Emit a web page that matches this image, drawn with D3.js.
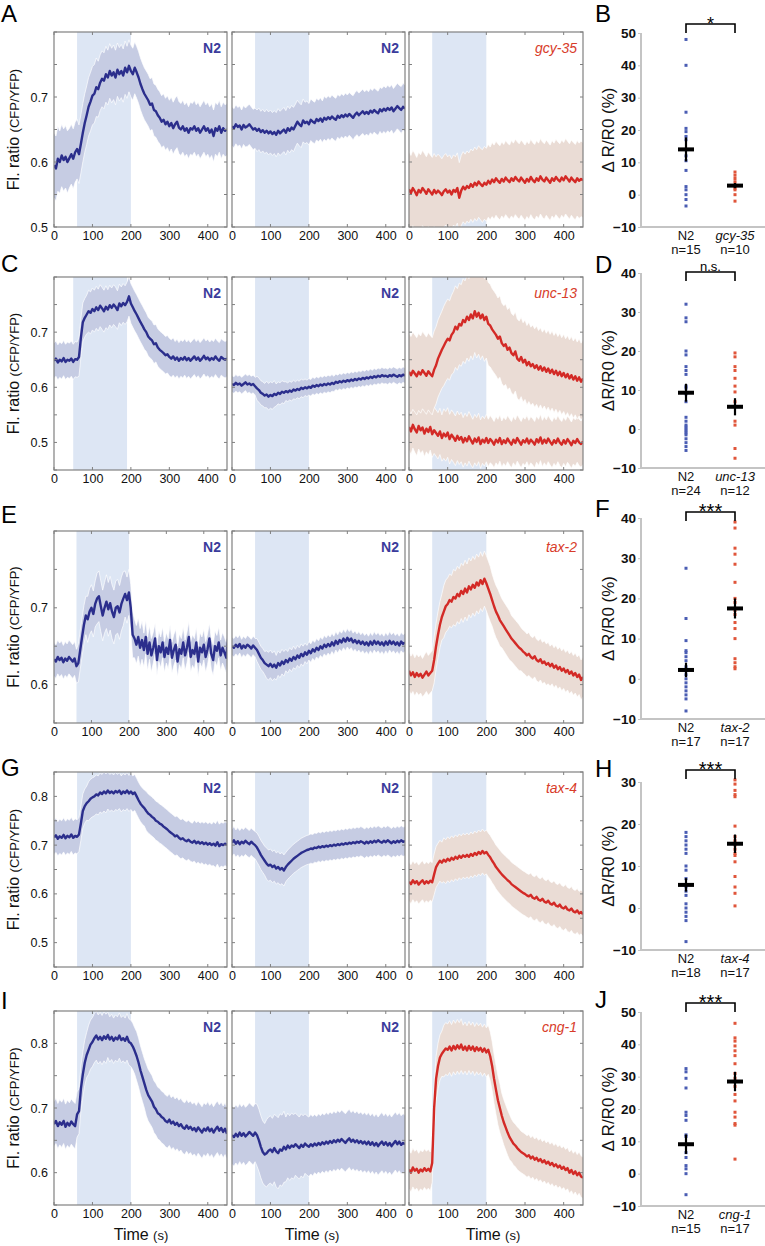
<!DOCTYPE html>
<html><head><meta charset="utf-8">
<script src="https://cdn.jsdelivr.net/npm/d3@7"></script>
<style>
body{margin:0;background:#fff}
svg{display:block}
text{font-family:"Liberation Sans",Arial,Helvetica,sans-serif}
</style>
</head><body>
<svg id="chart" width="765" height="1246"></svg>
<script>
// ---------------- DATA ----------------
// time-course means sampled every 5 s; SEM sampled every 25 s
const xTickValues = [0, 100, 200, 300, 400];
const stimDefault = [60, 200];
const stimC1 = [50, 190];

const yLabelsA = [0.5, 0.6, 0.7];
const yLabelsC = [0.5, 0.6, 0.7];
const yLabelsE = [0.6, 0.7];
const yLabelsG = [0.5, 0.6, 0.7, 0.8];
const yLabelsI = [0.6, 0.7, 0.8];

const panelTitles = ["N2", "N2", "gcy-35", "N2", "N2", "unc-13", "N2", "N2", "tax-2", "N2", "N2", "tax-4", "N2", "N2", "cng-1"];

const meanA1 = [.595,.590,.605,.600,.610,.603,.608,.600,.606,.612,.605,.615,.620,.612,.628,.645,.660,.672,.685,.693,.702,.705,.715,.712,.722,.728,.725,.735,.730,.740,.733,.738,.730,.742,.735,.740,.733,.745,.738,.748,.740,.735,.745,.738,.730,.720,.712,.705,.700,.695,.688,.690,.680,.678,.672,.668,.662,.665,.658,.662,.655,.660,.652,.658,.662,.653,.650,.655,.648,.652,.645,.652,.650,.655,.648,.652,.645,.650,.655,.648,.652,.645,.650,.640,.652,.648,.655,.645,.652,.648,.650];
const semA1 = [.050,.048,.046,.045,.045,.043,.042,.041,.040,.040,.040,.040,.040,.040,.040,.040,.040,.040,.040];
const meanA2 = [.655,.652,.658,.654,.656,.650,.657,.653,.655,.658,.654,.650,.652,.648,.651,.646,.649,.645,.648,.644,.647,.643,.646,.642,.648,.644,.647,.650,.645,.652,.648,.653,.650,.656,.662,.658,.655,.664,.660,.662,.658,.665,.662,.660,.666,.663,.667,.662,.668,.665,.669,.666,.670,.667,.665,.671,.668,.672,.669,.673,.670,.674,.671,.668,.673,.676,.672,.675,.678,.674,.677,.674,.679,.676,.680,.677,.675,.681,.678,.682,.679,.683,.680,.684,.678,.682,.686,.683,.680,.685,.682];
const semA2 = [.030,.030,.031,.032,.033,.034,.034,.033,.032,.032,.033,.033,.033,.034,.034,.034,.035,.035,.036];
const meanA3 = [.558,.552,.560,.555,.549,.557,.553,.560,.556,.551,.558,.554,.550,.557,.552,.556,.553,.549,.555,.558,.553,.556,.550,.557,.554,.560,.545,.556,.562,.558,.563,.560,.566,.562,.568,.564,.570,.566,.563,.568,.565,.571,.567,.573,.569,.575,.571,.568,.574,.570,.576,.572,.569,.575,.571,.577,.573,.570,.576,.572,.568,.574,.570,.577,.572,.569,.575,.571,.578,.573,.570,.576,.572,.568,.575,.571,.577,.573,.570,.576,.572,.578,.574,.570,.576,.572,.569,.575,.571,.574,.572];
const semA3 = [.058,.058,.057,.056,.055,.054,.054,.055,.056,.057,.057,.058,.058,.058,.058,.058,.058,.058,.058];

const meanC1 = [.648,.652,.645,.650,.647,.653,.646,.650,.648,.652,.646,.651,.650,.655,.690,.718,.726,.732,.738,.735,.742,.738,.745,.740,.748,.743,.738,.746,.741,.749,.744,.750,.746,.740,.752,.747,.753,.749,.755,.765,.752,.745,.738,.732,.725,.718,.712,.705,.700,.692,.688,.685,.678,.680,.672,.668,.665,.662,.658,.660,.655,.652,.656,.650,.654,.648,.653,.650,.655,.649,.653,.648,.652,.656,.650,.654,.648,.652,.657,.651,.654,.649,.653,.650,.656,.651,.648,.655,.652,.650,.652];
const semC1 = [.032,.032,.032,.035,.038,.038,.036,.035,.036,.036,.035,.034,.034,.033,.033,.033,.033,.033,.033];
const meanC2 = [.606,.604,.608,.605,.607,.603,.606,.609,.605,.607,.604,.606,.602,.598,.595,.590,.588,.585,.587,.583,.586,.584,.588,.586,.590,.588,.592,.590,.593,.591,.594,.592,.596,.594,.597,.595,.599,.597,.600,.598,.601,.599,.603,.601,.604,.602,.605,.603,.606,.604,.607,.605,.608,.606,.610,.608,.611,.609,.612,.610,.613,.611,.614,.612,.615,.613,.616,.614,.617,.615,.618,.616,.619,.617,.620,.618,.621,.619,.622,.620,.621,.619,.622,.620,.623,.621,.619,.622,.620,.623,.621];
const semC2 = [.015,.015,.016,.022,.024,.020,.017,.016,.015,.015,.015,.014,.014,.014,.014,.014,.014,.014,.014];
const meanC3a = [.628,.622,.630,.625,.620,.628,.623,.631,.626,.621,.629,.624,.620,.632,.640,.652,.660,.668,.675,.682,.688,.685,.695,.700,.710,.705,.715,.712,.722,.718,.728,.722,.732,.725,.738,.728,.735,.725,.732,.722,.728,.715,.712,.705,.700,.695,.688,.692,.680,.675,.678,.668,.672,.662,.658,.665,.652,.648,.655,.645,.650,.640,.646,.638,.642,.635,.640,.632,.638,.630,.636,.628,.634,.626,.632,.624,.630,.622,.628,.620,.626,.618,.624,.616,.622,.614,.620,.612,.618,.610,.616];
const semC3a = [.070,.070,.070,.070,.072,.074,.075,.075,.075,.074,.073,.072,.072,.071,.070,.070,.070,.070,.070];
const meanC3b = [.528,.520,.532,.524,.518,.530,.522,.527,.516,.525,.519,.528,.515,.522,.517,.512,.520,.508,.516,.511,.518,.506,.514,.509,.503,.512,.505,.510,.500,.508,.502,.511,.504,.498,.507,.501,.509,.497,.505,.500,.508,.499,.506,.502,.496,.505,.500,.508,.497,.504,.499,.507,.501,.496,.505,.499,.508,.502,.496,.504,.500,.507,.498,.505,.501,.496,.506,.500,.509,.498,.505,.499,.507,.501,.496,.504,.499,.507,.500,.496,.504,.498,.506,.501,.495,.503,.499,.506,.500,.497,.502];
const semC3b = [.042,.042,.042,.042,.045,.045,.045,.044,.043,.042,.042,.042,.042,.042,.042,.042,.042,.042,.042];

const meanE1 = [.633,.630,.636,.632,.635,.629,.634,.631,.636,.633,.630,.634,.624,.628,.645,.662,.678,.690,.685,.695,.700,.692,.705,.712,.715,.702,.690,.700,.708,.698,.706,.695,.688,.700,.702,.694,.705,.712,.718,.710,.720,.700,.665,.660,.652,.662,.648,.658,.645,.662,.640,.655,.638,.648,.660,.632,.650,.642,.655,.636,.648,.640,.658,.635,.645,.652,.630,.646,.640,.655,.638,.648,.662,.636,.645,.640,.655,.630,.648,.642,.652,.636,.646,.660,.640,.632,.650,.644,.655,.638,.648,.642,.635,.660,.600];
const semE1 = [.022,.022,.022,.025,.030,.033,.035,.035,.030,.025,.022,.020,.020,.020,.020,.020,.020,.020,.020,.020];
const meanE2 = [.650,.648,.652,.649,.653,.647,.651,.648,.652,.650,.647,.651,.648,.645,.640,.635,.632,.628,.626,.624,.627,.623,.626,.622,.628,.625,.630,.627,.632,.629,.634,.631,.636,.633,.638,.635,.640,.637,.642,.639,.644,.641,.646,.643,.648,.645,.650,.647,.652,.649,.653,.650,.655,.651,.657,.653,.658,.655,.660,.656,.661,.657,.660,.655,.658,.654,.657,.653,.656,.652,.655,.651,.656,.652,.657,.653,.656,.652,.655,.651,.656,.652,.657,.653,.656,.652,.655,.651,.656,.653,.655];
const semE2 = [.012,.012,.012,.015,.018,.016,.014,.013,.012,.012,.012,.012,.012,.012,.012,.012,.012,.012,.012];
const meanE3 = [.618,.612,.616,.610,.615,.611,.614,.609,.613,.617,.612,.615,.618,.632,.650,.665,.678,.688,.695,.702,.705,.710,.708,.714,.712,.718,.715,.722,.718,.725,.720,.728,.724,.730,.726,.733,.729,.736,.731,.738,.732,.725,.718,.710,.702,.695,.690,.684,.680,.676,.672,.668,.664,.660,.657,.654,.651,.648,.646,.643,.641,.638,.640,.636,.634,.637,.632,.630,.633,.628,.630,.626,.628,.624,.627,.622,.625,.620,.623,.618,.621,.616,.619,.614,.617,.612,.615,.610,.613,.606,.610];
const semE3 = [.025,.025,.026,.030,.034,.036,.037,.037,.036,.034,.032,.030,.028,.027,.027,.026,.026,.026,.026];

const meanG1 = [.716,.720,.713,.718,.715,.721,.714,.719,.716,.722,.715,.719,.717,.722,.745,.770,.780,.786,.790,.795,.798,.800,.804,.802,.808,.805,.810,.806,.812,.807,.810,.806,.811,.808,.812,.805,.810,.807,.812,.806,.810,.805,.808,.800,.792,.785,.780,.776,.770,.765,.762,.758,.755,.750,.748,.744,.742,.738,.735,.732,.728,.725,.722,.718,.720,.715,.712,.714,.710,.708,.711,.707,.705,.709,.704,.707,.703,.706,.702,.705,.701,.704,.700,.703,.699,.706,.698,.702,.700,.703,.700];
const semG1 = [.035,.035,.035,.035,.040,.040,.038,.037,.037,.037,.040,.040,.040,.040,.040,.042,.043,.045,.045];
const meanG2 = [.705,.710,.703,.708,.702,.707,.704,.709,.705,.702,.707,.703,.700,.695,.688,.680,.674,.668,.662,.658,.660,.655,.658,.652,.655,.650,.653,.648,.655,.660,.664,.668,.672,.675,.678,.681,.684,.686,.688,.690,.691,.693,.692,.695,.694,.697,.695,.698,.696,.699,.697,.700,.698,.701,.699,.702,.700,.703,.701,.704,.702,.705,.703,.706,.704,.707,.705,.708,.706,.703,.707,.704,.708,.705,.709,.706,.710,.707,.705,.709,.706,.710,.707,.704,.708,.705,.709,.706,.710,.707,.708];
const semG2 = [.028,.028,.028,.030,.032,.032,.030,.030,.030,.030,.030,.030,.030,.030,.030,.030,.030,.030,.030];
const meanG3 = [.625,.620,.628,.622,.626,.619,.624,.628,.621,.626,.622,.627,.624,.640,.655,.662,.668,.664,.670,.666,.672,.668,.674,.670,.676,.672,.678,.674,.679,.676,.680,.676,.682,.678,.684,.680,.686,.682,.688,.683,.686,.680,.675,.668,.662,.655,.650,.645,.640,.636,.632,.628,.625,.620,.617,.614,.611,.608,.605,.602,.600,.597,.595,.598,.592,.590,.594,.588,.586,.590,.584,.582,.586,.580,.578,.582,.576,.574,.578,.572,.570,.574,.568,.566,.570,.564,.562,.566,.560,.563,.558];
const semG3 = [.040,.040,.040,.042,.045,.045,.045,.045,.045,.045,.045,.045,.045,.045,.045,.045,.045,.045,.045];

const meanI1 = [.675,.680,.672,.678,.674,.680,.671,.677,.673,.679,.675,.672,.690,.695,.730,.752,.770,.782,.790,.798,.802,.808,.812,.806,.810,.805,.811,.807,.813,.806,.810,.804,.809,.806,.812,.805,.808,.804,.810,.802,.800,.795,.788,.780,.770,.758,.748,.738,.728,.720,.715,.710,.702,.698,.692,.690,.686,.684,.680,.678,.682,.676,.679,.674,.677,.672,.675,.670,.668,.673,.668,.671,.666,.669,.664,.670,.666,.662,.668,.665,.670,.664,.668,.662,.667,.671,.665,.669,.663,.668,.660];
const semI1 = [.035,.035,.035,.035,.038,.038,.035,.035,.036,.038,.040,.040,.040,.040,.040,.040,.040,.040,.040];
const meanI2 = [.658,.655,.660,.656,.662,.657,.661,.656,.659,.663,.660,.657,.662,.658,.650,.640,.632,.628,.630,.634,.636,.632,.638,.633,.630,.636,.634,.640,.636,.642,.638,.642,.640,.644,.641,.638,.643,.640,.645,.642,.640,.644,.641,.645,.642,.646,.643,.647,.644,.648,.645,.649,.646,.650,.647,.651,.648,.652,.649,.646,.650,.653,.648,.651,.647,.650,.646,.649,.645,.648,.644,.648,.643,.647,.642,.646,.641,.645,.648,.643,.647,.642,.646,.641,.645,.649,.644,.648,.643,.646,.644];
const semI2 = [.045,.045,.045,.048,.052,.055,.050,.048,.046,.045,.045,.045,.045,.045,.045,.045,.045,.045,.045];
const meanI3 = [.605,.600,.608,.603,.606,.600,.605,.602,.607,.603,.606,.602,.615,.700,.745,.765,.778,.784,.788,.792,.790,.795,.789,.796,.791,.797,.792,.798,.790,.795,.789,.796,.790,.795,.788,.794,.789,.793,.787,.792,.786,.790,.780,.765,.745,.728,.712,.700,.688,.678,.670,.662,.655,.650,.645,.642,.638,.635,.632,.630,.628,.625,.627,.622,.625,.620,.623,.618,.621,.616,.619,.614,.617,.612,.615,.610,.613,.608,.611,.606,.609,.604,.607,.600,.604,.598,.602,.596,.600,.594,.592];
const semI3 = [.030,.030,.030,.035,.040,.040,.038,.038,.038,.038,.035,.033,.032,.032,.032,.032,.032,.032,.032];

// scatter (ΔR/R0 %) data
const groupsB = ["N2", "gcy-35"], nB = ["n=15", "n=10"];
const dotsB_N2 = [48, 40, 25.5, 20.5, 19.5, 18, 17, 12, 10.5, 7.5, 2.5, 1.5, 0, -1.5, -3.5];
const dotsB_mut = [7, 6, 5, 4, 3, 2.5, 2, 1.5, 0, -2];
const meanB = [14, 2.8], semB = [3.7, 0.8];

const groupsD = ["N2", "unc-13"], nD = ["n=24", "n=12"];
const dotsD_N2 = [32, 28.5, 27.5, 20, 19, 16, 15, 14, 11, 10.5, 9, 7, 3, 2, 1, 0.5, 0, -0.5, -1, -1.5, -2.5, -3.5, -4.5, -5.5];
const dotsD_mut = [19.5, 18.5, 16, 15, 13, 11, 9.5, 7, 2, 1, -5, -7.5];
const meanD = [9.3, 5.7], semD = [2.3, 2.2];

const groupsF = ["N2", "tax-2"], nF = ["n=17", "n=17"];
const dotsF_N2 = [27.5, 15, 9.5, 7, 6.5, 5.5, 4.5, 3, 2, 1, 0, -1, -2, -3, -4, -5, -8];
const dotsF_mut = [39, 37.5, 32.5, 31, 28.5, 24, 20, 19, 17, 16, 14, 12.5, 10, 5, 4, 3, 2.5];
const meanF = [2.2, 17.5], semF = [1.8, 2.5];

const groupsH = ["N2", "tax-4"], nH = ["n=18", "n=17"];
const dotsH_N2 = [18, 17, 16, 15, 14, 13, 10, 9, 7, 5, 4, 3, 1, 0, -1, -2, -3, -8];
const dotsH_mut = [30.5, 29.5, 28, 27, 26.5, 19.5, 17, 16, 15, 14, 13, 12.5, 11, 5, 3.5, 0.5, 7.5];
const meanH = [5.5, 15.3], semH = [1.6, 2.2];

const groupsJ = ["N2", "cng-1"], nJ = ["n=15", "n=17"];
const dotsJ_N2 = [32.5, 31.5, 29.5, 26.5, 19, 18, 16.5, 12, 11.5, 6.5, 5, 2.5, 1.5, 0, -6.5];
const dotsJ_mut = [46.5, 42, 41, 39.5, 38, 36.5, 34, 31, 29.5, 27, 24.5, 22.5, 19, 17.5, 15.5, 15, 4.5];
const meanJ = [9.1, 28.5], semJ = [3.0, 3.0];

// ---------------- STYLE / LAYOUT ----------------
const BLUE = "#2b2e8c", RED = "#d32a26";
const BLUE_BAND = "#c6cce3", RED_BAND = "#eadcd5";
const STIM = "#dde6f4";
const DOT_BLUE = "#4a5db3", DOT_RED = "#e0553a";
const FRAME = "#808080";

const rowTop = [32, 277, 531, 772, 1011];
const rowBot = [227, 470, 723, 967, 1205];
const colX = [[54, 227], [232, 405], [409, 583]];

const rows = [
  {letter: "A", yDom: [0.5, 0.8], yLabels: yLabelsA, panels: [
    {traces: [[meanA1, semA1, "b"]], stim: stimDefault, xMax: 450},
    {traces: [[meanA2, semA2, "b"]], stim: stimDefault, xMax: 450},
    {traces: [[meanA3, semA3, "r"]], stim: stimDefault, xMax: 450}]},
  {letter: "C", yDom: [0.45, 0.8], yLabels: yLabelsC, panels: [
    {traces: [[meanC1, semC1, "b"]], stim: stimC1, xMax: 450},
    {traces: [[meanC2, semC2, "b"]], stim: stimDefault, xMax: 450},
    {traces: [[meanC3b, semC3b, "r"], [meanC3a, semC3a, "r"]], stim: stimDefault, xMax: 450}]},
  {letter: "E", yDom: [0.55, 0.8], yLabels: yLabelsE, panels: [
    {traces: [[meanE1, semE1, "b"]], stim: stimDefault, xMax: 462},
    {traces: [[meanE2, semE2, "b"]], stim: stimDefault, xMax: 450},
    {traces: [[meanE3, semE3, "r"]], stim: stimDefault, xMax: 450}]},
  {letter: "G", yDom: [0.45, 0.85], yLabels: yLabelsG, panels: [
    {traces: [[meanG1, semG1, "b"]], stim: stimDefault, xMax: 450},
    {traces: [[meanG2, semG2, "b"]], stim: stimDefault, xMax: 450},
    {traces: [[meanG3, semG3, "r"]], stim: stimDefault, xMax: 450}]},
  {letter: "I", yDom: [0.55, 0.85], yLabels: yLabelsI, panels: [
    {traces: [[meanI1, semI1, "b"]], stim: stimDefault, xMax: 450},
    {traces: [[meanI2, semI2, "b"]], stim: stimDefault, xMax: 450},
    {traces: [[meanI3, semI3, "r"]], stim: stimDefault, xMax: 450}]}
];
const letterBase = [22, 272, 523, 776, 1009];
const timeLabelX = [141, 312, 493];

const svg = d3.select("#chart");
const defs = svg.append("defs");

rows.forEach((row, ri) => {
  const top = rowTop[ri], bot = rowBot[ri];
  const y = d3.scaleLinear().domain(row.yDom).range([bot, top]);
  svg.append("text").attr("x", 1).attr("y", letterBase[ri]).attr("font-size", 24).text(row.letter);
  const midY = (top + bot) / 2;
  const yl = svg.append("text").attr("transform", `translate(19,${midY}) rotate(-90)`)
    .attr("text-anchor", "middle").attr("fill", "#111");
  yl.append("tspan").attr("font-size", 16).text("Fl. ratio ");
  yl.append("tspan").attr("font-size", 13).text("(CFP/YFP)");

  row.panels.forEach((p, pi) => {
    const [x0, x1] = colX[pi];
    const x = d3.scaleLinear().domain([0, p.xMax]).range([x0, x1]);
    const g = svg.append("g");
    const cid = `clip${ri}_${pi}`;
    defs.append("clipPath").attr("id", cid).append("rect")
      .attr("x", x0).attr("y", top).attr("width", x1 - x0).attr("height", bot - top);
    const pg = g.append("g").attr("clip-path", `url(#${cid})`);
    pg.append("rect").attr("x", x(p.stim[0])).attr("y", top)
      .attr("width", x(p.stim[1]) - x(p.stim[0])).attr("height", bot - top).attr("fill", STIM);
    p.traces.forEach(([mean, sem, c]) => {
      const pts = mean.map((v, i) => ({t: i * 5, v, s: sem[Math.round(i * 5 / 25)]}));
      const area = d3.area().x(d => x(d.t)).y0(d => y(d.v - d.s)).y1(d => y(d.v + d.s));
      pg.append("path").datum(pts).attr("d", area)
        .attr("fill", c === "b" ? BLUE_BAND : RED_BAND).attr("stroke", "none");
      const edgeHi = d3.line().x(d => x(d.t)).y(d => y(d.v + d.s));
      const edgeLo = d3.line().x(d => x(d.t)).y(d => y(d.v - d.s));
      pg.append("path").datum(pts).attr("d", edgeHi).attr("fill", "none").attr("stroke", "#fff").attr("stroke-width", 0.8).attr("opacity", 0.85);
      pg.append("path").datum(pts).attr("d", edgeLo).attr("fill", "none").attr("stroke", "#fff").attr("stroke-width", 0.8).attr("opacity", 0.85);
    });
    p.traces.forEach(([mean, sem, c]) => {
      const line = d3.line().x((d, i) => x(i * 5)).y(d => y(d));
      pg.append("path").datum(mean).attr("d", line).attr("fill", "none")
        .attr("stroke", c === "b" ? BLUE : RED).attr("stroke-width", 2.4).attr("stroke-linejoin", "round");
    });
    g.append("rect").attr("x", x0).attr("y", top).attr("width", x1 - x0).attr("height", bot - top)
      .attr("fill", "none").attr("stroke", FRAME).attr("stroke-width", 1.2);
    const tickG = g.append("g").attr("stroke", FRAME).attr("stroke-width", 1);
    xTickValues.forEach(t => {
      tickG.append("line").attr("x1", x(t)).attr("x2", x(t)).attr("y1", bot).attr("y2", bot - 3);
      tickG.append("line").attr("x1", x(t)).attr("x2", x(t)).attr("y1", top).attr("y2", top + 3);
    });
    const yTicks = d3.range(Math.ceil(row.yDom[0] / 0.05 - 1e-6), Math.floor(row.yDom[1] / 0.05 + 1e-6) + 1).map(k => k * 0.05);
    yTicks.forEach(v => {
      tickG.append("line").attr("x1", x0).attr("x2", x0 + 3).attr("y1", y(v)).attr("y2", y(v));
      tickG.append("line").attr("x1", x1).attr("x2", x1 - 3).attr("y1", y(v)).attr("y2", y(v));
    });
    const ax = d3.axisBottom(x).tickValues(xTickValues).tickSize(0).tickPadding(0).tickFormat(d3.format("d"));
    const axG = svg.append("g").attr("transform", `translate(0,${bot + 13})`).call(ax);
    axG.select(".domain").remove();
    axG.selectAll("text").attr("font-size", 12.5).attr("fill", "#111").attr("dy", 0)
      .attr("font-family", '"Liberation Sans",Arial,sans-serif');
    const title = panelTitles[ri * 3 + pi];
    const isMut = pi === 2;
    svg.append("text").attr("x", x1 - 6).attr("y", top + 21).attr("text-anchor", "end")
      .attr("font-size", 14).attr("font-weight", isMut ? "normal" : "bold")
      .attr("font-style", isMut ? "italic" : "normal")
      .attr("fill", isMut ? "#d83c2a" : "#3b3c9c").text(title);
    if (pi === 0) {
      const ay = d3.axisLeft(y).tickValues(row.yLabels).tickSize(0).tickPadding(6).tickFormat(d3.format(".1f"));
      const ayG = svg.append("g").attr("transform", `translate(${x0},0)`).call(ay);
      ayG.select(".domain").remove();
      ayG.selectAll("text").attr("font-size", 12.5).attr("fill", "#111")
        .attr("font-family", '"Liberation Sans",Arial,sans-serif');
    }
  });
});

// Time (s) labels for bottom row
timeLabelX.forEach(cx => {
  const t = svg.append("text").attr("x", cx).attr("y", 1240).attr("text-anchor", "middle").attr("fill", "#111");
  t.append("tspan").attr("font-size", 16).text("Time ");
  t.append("tspan").attr("font-size", 13).text("(s)");
});

// ---------------- SCATTER PANELS ----------------
const scatters = [
  {letter: "B", top: 33, bot: 227, dom: [-10, 50], ticks: [-10, 0, 10, 20, 30, 40, 50], groups: groupsB, ns: nB,
   dots: [dotsB_N2, dotsB_mut], means: meanB, sems: semB, sig: "*", brY: 24, label: "Δ R/R0 (%)", letterY: 22},
  {letter: "D", top: 273, bot: 468, dom: [-10, 40], ticks: [-10, 0, 10, 20, 30, 40], groups: groupsD, ns: nD,
   dots: [dotsD_N2, dotsD_mut], means: meanD, sems: semD, sig: "n.s.", brY: 272, label: "ΔR/R0 (%)", letterY: 273},
  {letter: "F", top: 518, bot: 719, dom: [-10, 40], ticks: [-10, 0, 10, 20, 30, 40], groups: groupsF, ns: nF,
   dots: [dotsF_N2, dotsF_mut], means: meanF, sems: semF, sig: "***", brY: 512, label: "Δ R/R0 (%)", letterY: 517},
  {letter: "H", top: 782, bot: 950, dom: [-10, 30], ticks: [-10, 0, 10, 20, 30], groups: groupsH, ns: nH,
   dots: [dotsH_N2, dotsH_mut], means: meanH, sems: semH, sig: "***", brY: 770, label: "ΔR/R0 (%)", letterY: 777},
  {letter: "J", top: 1012, bot: 1206, dom: [-10, 50], ticks: [-10, 0, 10, 20, 30, 40, 50], groups: groupsJ, ns: nJ,
   dots: [dotsJ_N2, dotsJ_mut], means: meanJ, sems: semJ, sig: "***", brY: 1003, label: "Δ R/R0 (%)", letterY: 1008}
];
const axisX = 641;
scatters.forEach(s => {
  const y = d3.scaleLinear().domain(s.dom).range([s.bot, s.top]);
  const x = d3.scalePoint().domain(s.groups).range([686, 735]);
  const g = svg.append("g");
  g.append("text").attr("x", 595).attr("y", s.letterY).attr("font-size", 24).text(s.letter);
  g.append("line").attr("x1", axisX).attr("x2", axisX).attr("y1", s.top).attr("y2", s.bot).attr("stroke", "#c4c4c4").attr("stroke-width", 2);
  g.append("line").attr("x1", axisX).attr("x2", 765).attr("y1", s.bot).attr("y2", s.bot).attr("stroke", "#c4c4c4").attr("stroke-width", 2);
  const ay = d3.axisLeft(y).tickValues(s.ticks).tickSize(3).tickPadding(2);
  const ayG = g.append("g").attr("transform", `translate(${axisX},0)`).call(ay);
  ayG.select(".domain").remove();
  ayG.selectAll("line").attr("stroke", "#c4c4c4");
  ayG.selectAll("text").attr("font-size", 13.5).attr("font-weight", "bold").attr("fill", "#111")
    .attr("font-family", '"Liberation Sans",Arial,sans-serif');
  g.append("text").attr("transform", `translate(614,${(s.top + s.bot) / 2}) rotate(-90)`)
    .attr("text-anchor", "middle").attr("font-size", 17).attr("fill", "#111").text(s.label);
  s.dots.forEach((arr, gi) => {
    g.selectAll(null).data(arr).enter().append("rect")
      .attr("x", x(s.groups[gi]) - 1.5).attr("y", d => y(d) - 1.5).attr("width", 3).attr("height", 3)
      .attr("fill", gi === 0 ? DOT_BLUE : DOT_RED);
  });
  s.means.forEach((m, gi) => {
    const cx = x(s.groups[gi]);
    g.append("line").attr("x1", cx).attr("x2", cx).attr("y1", y(m - s.sems[gi])).attr("y2", y(m + s.sems[gi]))
      .attr("stroke", "#000").attr("stroke-width", 2.2);
    g.append("rect").attr("x", cx - 8).attr("y", y(m) - 2).attr("width", 16).attr("height", 4).attr("fill", "#000");
  });
  const xa = x(s.groups[0]), xb = x(s.groups[1]);
  g.append("path").attr("d", `M${xa},${s.brY + 9}V${s.brY}H${xb}V${s.brY + 9}`)
    .attr("fill", "none").attr("stroke", "#000").attr("stroke-width", 1.6);
  const sigT = g.append("text").attr("x", (xa + xb) / 2).attr("text-anchor", "middle").text(s.sig);
  if (s.sig === "n.s.") sigT.attr("y", s.brY - 1).attr("font-size", 13);
  else sigT.attr("y", s.brY + 6).attr("font-size", s.sig === "*" ? 18 : 20);
  s.groups.forEach((gname, gi) => {
    g.append("text").attr("x", x(gname)).attr("y", s.bot + 13).attr("text-anchor", "middle")
      .attr("font-size", 13).attr("font-style", gi === 1 ? "italic" : "normal").attr("fill", "#111").text(gname);
    g.append("text").attr("x", x(gname)).attr("y", s.bot + 27).attr("text-anchor", "middle")
      .attr("font-size", 13).attr("fill", "#111").text(s.ns[gi]);
  });
});
</script>
</body></html>
